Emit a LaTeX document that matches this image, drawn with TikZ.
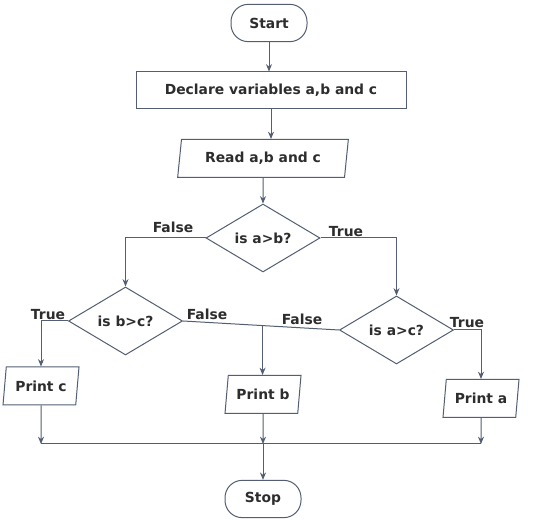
\documentclass[tikz,border=0pt]{standalone}
\usepackage{fontspec}
\setmainfont{DejaVu Sans}
\usetikzlibrary{shapes.geometric,arrows.meta,calc}

\definecolor{flowline}{RGB}{84,94,114}
\definecolor{flowtext}{RGB}{45,45,45}

\tikzset{every picture/.style={line width=0.75pt}}
\tikzset{
  box/.style={draw=flowline, fill=white, text=flowtext, inner sep=0pt,
    font=\bfseries\fontsize{10.4}{12}\selectfont},
  term/.style={box, rounded corners=13pt, minimum width=57pt, minimum height=28pt},
  proc/.style={box, minimum width=202.5pt, minimum height=27.75pt},
  io/.style={box, trapezium, trapezium left angle=73, trapezium right angle=107,
    trapezium stretches body, minimum height=28.5pt},
  cond/.style={box, diamond, aspect=1.7, minimum width=85.5pt, minimum height=51pt},
  arr/.style={draw=flowline, -{Stealth[length=5.5pt,width=4.5pt]}},
  link/.style={draw=flowline},
  lbl/.style={text=flowtext, inner sep=0pt, font=\bfseries\fontsize{10.4}{12}\selectfont},
}

\begin{document}
\begin{tikzpicture}[x=0.75pt,y=0.75pt,yscale=-1,xscale=1]
\path[use as bounding box, fill=white] (0,0) rectangle (544,523);

%Shape: Terminal
\node[term] (start) at (269,23) {Start};
%Shape: Process
\node[proc] (declare) at (271,90.5) {Declare variables a,b and c};
%Shape: Input
\node[io, minimum width=128pt] (read) at (263,158.5) {Read a,b and c};
%Shape: Decisions
\node[cond] (ab) at (263,238) {is a>b?};
\node[cond] (bc) at (125.5,321) {is b>c?};
\node[cond] (ac) at (396.5,330) {is a>c?};
%Shape: Outputs
\node[io, minimum width=57pt] (pc) at (41,386) {Print c};
\node[io, minimum width=57pt] (pb) at (263,394.5) {Print b};
\node[io, minimum width=57pt] (pa) at (481,398.5) {Print a};
%Shape: Terminal
\node[term] (stop) at (263,499) {Stop};

% Text Node
\node[lbl] (fab) at (173,227) {False};
% Text Node
\node[lbl] (tab) at (346,232) {True};
% Text Node
\node[lbl] (tbc) at (48,315) {True};
% Text Node
\node[lbl] (fbc) at (207,314) {False};
% Text Node
\node[lbl] (fac) at (302,319) {False};
% Text Node
\node[lbl] (tac) at (467,323) {True};

%Connectors
\draw[arr] (start) -- (start |- declare.north);
\draw[arr] (declare) -- (declare |- read.north);
\draw[arr] (read) -- (ab);
\draw[arr] (ab.west) -| (bc.north);
\draw[arr] (ab.east) -| (ac.north);
\draw[arr] (bc.west) -| (pc.north);
\draw[arr] (ac.east) -| (pa.north);
\draw[link] (bc.east) -- (ac.west);
\coordinate (fb) at ($(bc.east)!0.51!(ac.west)$);
\draw[arr] (fb) -- (fb |- pb.north);

%Joining line
\coordinate (jb) at (263,444);
\draw[arr] (pc) -- (pc |- jb);
\draw[arr] (pb) -- (jb);
\draw[arr] (pa) -- (pa |- jb);
\draw[link] (pc |- jb) -- (pa |- jb);
\draw[arr] (jb) -- (stop);

\end{tikzpicture}
\end{document}
